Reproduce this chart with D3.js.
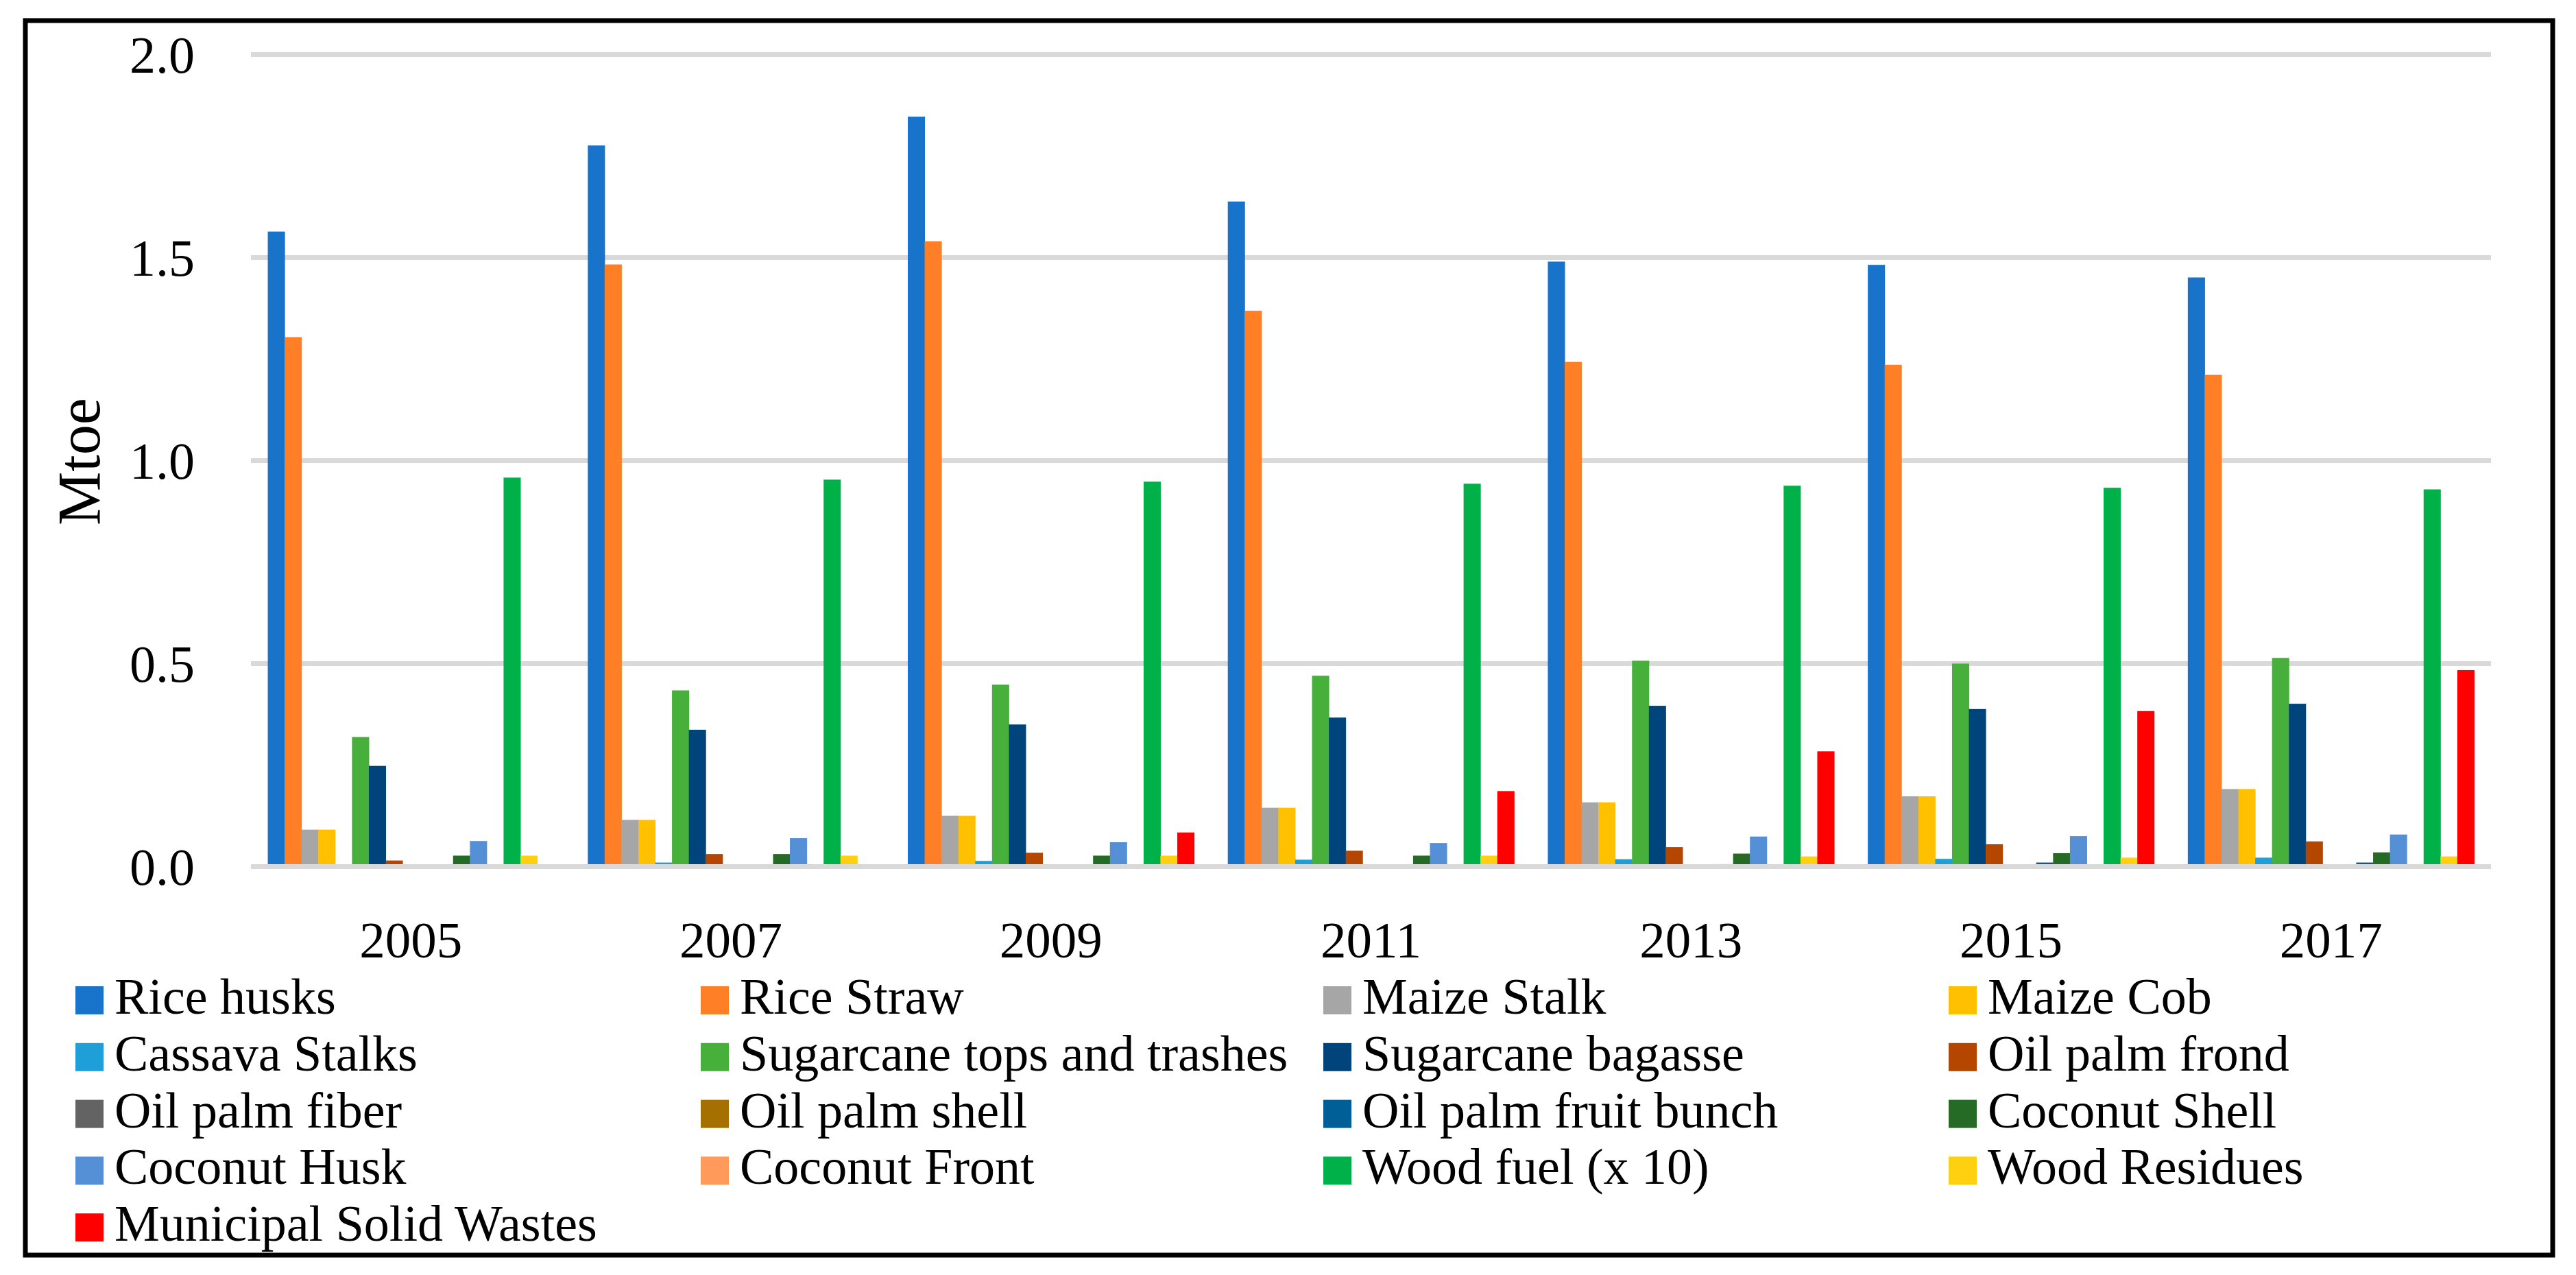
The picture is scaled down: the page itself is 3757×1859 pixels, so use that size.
<!DOCTYPE html>
<html>
<head>
<meta charset="utf-8">
<script src="https://cdn.jsdelivr.net/npm/d3@7"></script>
</head>
<body style="margin:0;background:#fff">
<svg id="chart" width="3757" height="1859" style="display:block"></svg>
<script>
// years on the x axis
var years=["2005","2007","2009","2011","2013","2015","2017"];

var seriesNames=["Rice husks","Rice Straw","Maize Stalk","Maize Cob","Cassava Stalks",
    "Sugarcane tops and trashes","Sugarcane bagasse","Oil palm frond","Oil palm fiber",
    "Oil palm shell","Oil palm fruit bunch","Coconut Shell","Coconut Husk","Coconut Front",
    "Wood fuel (x 10)","Wood Residues","Municipal Solid Wastes"];

var seriesColors=["#1874cb","#ff7f27","#a6a6a6","#ffc000","#1e9fd8",
    "#47b03b","#00447c","#b54600","#636363",
    "#a57000","#005f96","#256a25","#5590d6","#ff9a5a",
    "#00b14a","#ffd010","#ff0000"];

// values in Mtoe, one array per series
var riceHusks   =[1.564,1.776,1.847,1.638,1.490,1.482,1.451];
var riceStraw   =[1.304,1.483,1.540,1.369,1.243,1.236,1.211];
var maizeStalk  =[0.091,0.115,0.125,0.145,0.158,0.173,0.191];
var maizeCob    =[0.091,0.115,0.125,0.145,0.158,0.173,0.191];
var cassava     =[0.004,0.010,0.014,0.017,0.018,0.019,0.022];
var caneTops    =[0.319,0.434,0.448,0.470,0.507,0.500,0.514];
var bagasse     =[0.248,0.337,0.350,0.367,0.396,0.388,0.401];
var palmFrond   =[0.015,0.031,0.034,0.039,0.048,0.055,0.062];
var palmFiber   =[0,0,0,0,0,0.002,0.002];
var palmShell   =[0,0,0,0,0,0,0];
var palmBunch   =[0,0.004,0.004,0.004,0.006,0.010,0.010];
var cocoShell   =[0.027,0.031,0.027,0.027,0.032,0.033,0.035];
var cocoHusk    =[0.063,0.070,0.060,0.058,0.074,0.075,0.079];
var cocoFront   =[0.004,0.004,0.004,0.003,0.004,0.004,0.006];
var woodFuel    =[0.958,0.953,0.948,0.943,0.938,0.933,0.929];
var woodResidue =[0.027,0.027,0.027,0.027,0.025,0.022,0.025];
var msw         =[0,0,0.084,0.186,0.284,0.383,0.484];

var yTicks=[0,0.5,1.0,1.5,2.0];

var seriesValues=[riceHusks,riceStraw,maizeStalk,maizeCob,cassava,caneTops,bagasse,
    palmFrond,palmFiber,palmShell,palmBunch,cocoShell,cocoHusk,cocoFront,
    woodFuel,woodResidue,msw];

var font="'Liberation Serif'";
var svg=d3.select("#chart");

// outer frame
svg.append("rect")
    .attr("x",37).attr("y",30)
    .attr("width",3686).attr("height",1800)
    .attr("fill","none")
    .attr("stroke","#000")
    .attr("stroke-width",7);

// scales
var x0=d3.scaleBand().domain(years).range([366,3633])
    .paddingInner(2/19).paddingOuter(1/19);
var x1=d3.scaleBand().domain(seriesNames).range([0,x0.bandwidth()]);
var y=d3.scaleLinear().domain([0,2]).range([1263.5,79.5]);

// gridlines
svg.append("g").selectAll("line")
    .data(yTicks)
    .enter().append("line")
    .attr("x1",366).attr("x2",3633)
    .attr("y1",function(d){return y(d);})
    .attr("y2",function(d){return y(d);})
    .attr("stroke","#d9d9d9")
    .attr("stroke-width",7);

// bars
var groups=svg.append("g").selectAll("g")
    .data(years)
    .enter().append("g")
    .attr("transform",function(d){return "translate("+x0(d)+",0)";});

groups.selectAll("rect")
    .data(function(d,i){
        return seriesNames.map(function(n,k){return {name:n,value:seriesValues[k][i],color:seriesColors[k]};});
    })
    .enter().append("rect")
    .attr("x",function(d){return x1(d.name);})
    .attr("width",x1.bandwidth()+0.5)
    .attr("y",function(d){return y(d.value);})
    .attr("height",function(d){return y(0)-y(d.value);})
    .attr("fill",function(d){return d.color;});

// zero line over the bar feet
svg.append("line")
    .attr("x1",366).attr("x2",3633)
    .attr("y1",y(0)).attr("y2",y(0))
    .attr("stroke","#d9d9d9")
    .attr("stroke-width",7);

// y axis labels
var yAxis=d3.axisLeft(y).tickValues(yTicks).tickFormat(d3.format(".1f")).tickSize(0).tickPadding(0);
var ya=svg.append("g").attr("transform","translate(284,0)").call(yAxis);
ya.attr("font-family",null).attr("font-size",null);
ya.select(".domain").remove();
ya.selectAll("text")
    .style("font-family",font)
    .style("font-size","76px")
    .attr("fill","#000")
    .attr("dy","0.34em");

// x axis labels
var xAxis=d3.axisBottom(x0).tickSize(0).tickPadding(0);
var xa=svg.append("g").attr("transform","translate(0,1396)").call(xAxis);
xa.attr("font-family",null).attr("font-size",null);
xa.select(".domain").remove();
xa.selectAll("text")
    .style("font-family",font)
    .style("font-size","75px")
    .attr("fill","#000")
    .attr("dy",0);

// y axis title
svg.append("text")
    .attr("transform","translate(145,673) rotate(-90)")
    .attr("text-anchor","middle")
    .style("font-family",font)
    .style("font-size","88px")
    .text("Mtoe");

// legend, 4 columns
var legX=[110,1022,1930,2842];
var legend=svg.append("g").selectAll("g")
    .data(seriesNames)
    .enter().append("g")
    .attr("transform",function(d,i){
        return "translate("+legX[i%4]+","+(1458+Math.floor(i/4)*82.8)+")";
    });
legend.append("rect")
    .attr("x",0).attr("y",-20)
    .attr("width",41).attr("height",41)
    .attr("fill",function(d,i){return seriesColors[i];});
legend.append("text")
    .attr("x",57).attr("y",20)
    .style("font-family",font)
    .style("font-size","74px")
    .text(function(d){return d;});
</script>
</body>
</html>
